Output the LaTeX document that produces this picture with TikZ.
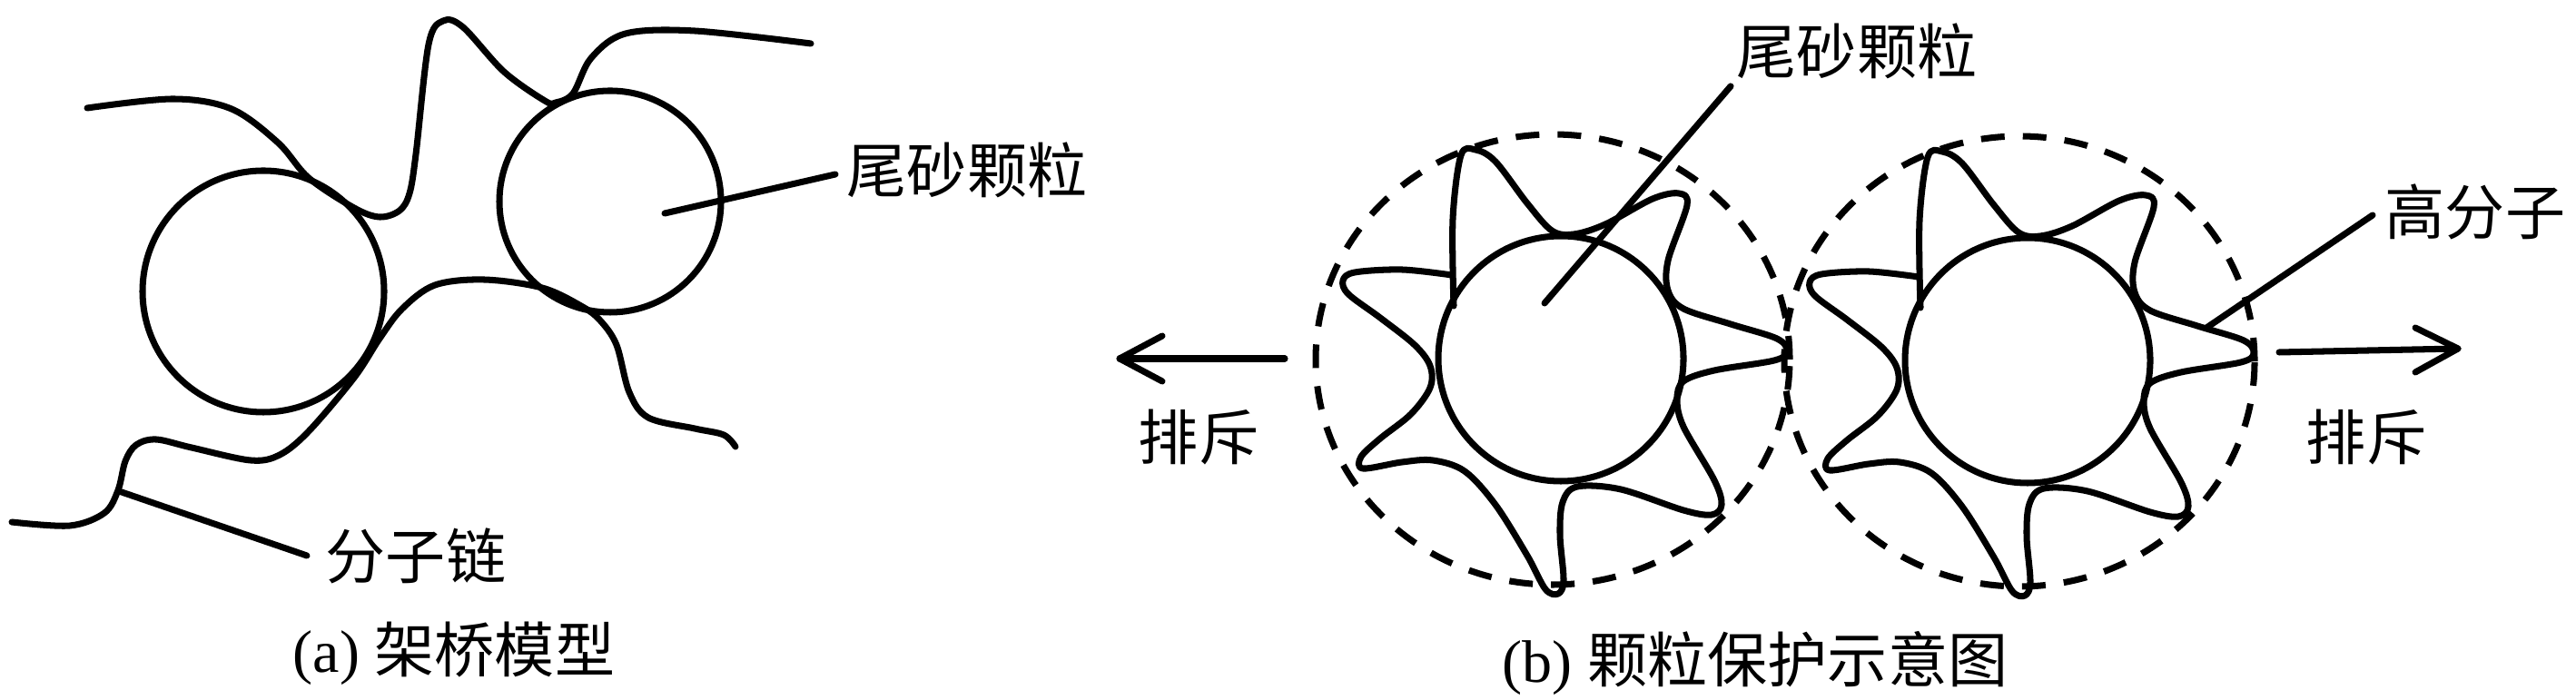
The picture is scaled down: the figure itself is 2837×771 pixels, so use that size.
\documentclass[tikz,border=0pt]{standalone}
\usepackage{fontspec}
\setmainfont{Liberation Serif}
\newfontfamily\cjk{Noto Sans CJK SC}
\usetikzlibrary{shapes.geometric}
\begin{document}
\begin{tikzpicture}[x=0.01cm,y=-0.01cm,
  poly/.style={line width=2pt,line cap=round,line join=round},
  solidc/.style={draw,circle,line width=2pt,inner sep=0pt},
  dashc/.style={draw,ellipse,inner sep=0pt,line width=2pt,dash pattern=on 7.4pt off 5.7pt},
  lbl/.style={inner sep=0pt,font=\fontsize{18.8pt}{22pt}\selectfont\cjk},
  captext/.style={inner sep=0pt,font=\fontsize{18.8pt}{22pt}\selectfont},
  polystar/.pic={
    \draw[poly] plot[smooth,tension=0.55] coordinates{
      (-118,-58) (-119,-154) (-110,-224) (-94,-230) (-72,-217) (-37,-171)
      (-10,-141) (14,-137) (49,-148) (101,-176) (130,-182) (139,-169)
      (118,-108) (118,-75) (135,-55) (187,-38) (238,-22) (249,-8) (235,2)
      (169,13) (135,25) (128,45) (135,75) (169,134) (177,161) (166,172)
      (135,167) (66,144) (18,141) (2,158) (-1,194) (3,244) (-3,259)
      (-17,254) (-37,217) (-72,161) (-106,124) (-141,112) (-175,114)
      (-218,121) (-220,108) (-199,88) (-165,61) (-144,32) (-144,8)
      (-161,-15) (-199,-45) (-234,-71) (-240,-86) (-227,-95) (-175,-98)
      (-120,-92)};
  }]
\useasboundingbox (0,0) rectangle (2837,771);

% ---------- panel (a) ----------
\node[solidc,minimum size=266*0.01cm] (pa1) at (290,321) {};
\node[solidc,minimum size=244*0.01cm] (pa2) at (672,222) {};

\draw[poly] plot[smooth,tension=0.55] coordinates{
  (96,119) (191,109) (255,120) (306,157) (340,196) (390,229) (418,239)
  (440,232) (451,213) (458,170) (472,49) (488,23) (510,30) (555,79)
  (600,111) (612,113) (631,103) (651,64) (689,37) (765,34) (893,48)};

\draw[poly] plot[smooth,tension=0.55] coordinates{
  (13,575) (77,579) (115,565) (130,540) (138,508) (150,490) (172,484)
  (211,493) (276,507) (308,501) (340,475) (390,416) (418,373) (443,340)
  (479,314) (533,308) (597,317) (640,337) (661,353) (679,380) (693,432)
  (714,460) (765,472) (797,479) (810,492)};

\node[lbl] (ta1) at (1065,187) {尾砂颗粒};
\coordinate (ca1) at (732,235);
\coordinate (ca2) at (920,192);
\draw[poly] (ca1) -- (ca2);

\node[lbl] (ta2) at (458,612) {分子链};
\coordinate (ca3) at (131,541);
\coordinate (ca4) at (338,612);
\draw[poly] (ca3) -- (ca4);

\node[captext] (capa) at (500,720) {(a) {\cjk 架桥模型}};

% ---------- panel (b) ----------
\node[dashc,minimum width=522*0.01cm,minimum height=496*0.01cm] (db1) at (1710,396) {};
\node[dashc,minimum width=518*0.01cm,minimum height=496*0.01cm] (db2) at (2224,398) {};

\node[solidc,minimum size=270*0.01cm] (pb1) at (1719,395) {};
\node[solidc,minimum size=270*0.01cm] (pb2) at (2233,397) {};

\pic at (pb1.center) {polystar};
\pic at (pb2.center) {polystar};

\node[lbl] (tb1) at (2045,56) {尾砂颗粒};
\coordinate (cb1) at (1906,95);
\coordinate (cb2) at (1701,334);
\draw[poly] (cb1) -- (cb2);

\node[lbl] (tb2) at (2726,233) {高分子};
\coordinate (cb3) at (2613,237);
\coordinate (cb4) at (2430,361);
\draw[poly] (cb3) -- (cb4);

% arrows
\coordinate (al0) at (1415,395);
\coordinate (alt) at (1233,395);
\coordinate (ala) at (1280,370);
\coordinate (alb) at (1280,420);
\draw[poly] (al0) -- (alt);
\draw[poly] (ala) -- (alt) -- (alb);

\coordinate (ar0) at (2510,388);
\coordinate (art) at (2707,384);
\coordinate (ara) at (2660,361);
\coordinate (arb) at (2660,410);
\draw[poly] (ar0) -- (art);
\draw[poly] (ara) -- (art) -- (arb);

\node[lbl] (tr1) at (1320,482) {排斥};
\node[lbl] (tr2) at (2606,482) {排斥};

\node[captext] (capb) at (1933,730) {(b) {\cjk 颗粒保护示意图}};
\end{tikzpicture}
\end{document}
